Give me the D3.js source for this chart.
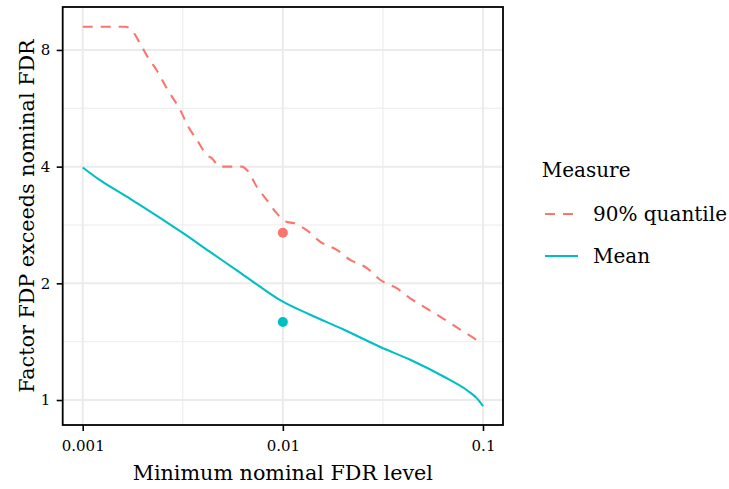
<!DOCTYPE html>
<html>
<head>
<meta charset="utf-8">
<script src="https://cdn.jsdelivr.net/npm/d3@7"></script>
<style>
  body { margin: 0; background: #fff; }
  text { font-family: "DejaVu Serif", serif; fill: #000; }
</style>
</head>
<body>
<div id="chart"></div>
<script>
// values
var quantileLevels = [0.001, 0.00163, 0.00176, 0.00193, 0.00213, 0.00234, 0.00263, 0.00307, 0.00337, 0.00372,
  0.00417, 0.00442, 0.00486, 0.00624, 0.00661, 0.00741, 0.00832, 0.00933, 0.0105, 0.0113,
  0.0132, 0.0154, 0.0186, 0.0217, 0.0263, 0.0307, 0.0372, 0.0433, 0.0525, 0.0635, 0.077, 0.097];
var quantileFactor = [9.18, 9.18, 9.0, 8.33, 7.61, 7.10, 6.37, 5.60, 5.07, 4.69,
  4.29, 4.20, 4.0, 4.0, 3.92, 3.55, 3.28, 3.03, 2.88, 2.86,
  2.74, 2.56, 2.44, 2.30, 2.19, 2.04, 1.94, 1.83, 1.72, 1.62, 1.52, 1.41];

var meanLevels = [0.001, 0.00122, 0.00172, 0.00319, 0.00433, 0.00589, 0.0077, 0.0097, 0.0137, 0.0201,
  0.0307, 0.0433, 0.0635, 0.0832, 0.0933, 0.1];
var meanFactor = [3.98, 3.69, 3.31, 2.69, 2.41, 2.16, 1.96, 1.81, 1.66, 1.52,
  1.37, 1.27, 1.15, 1.06, 1.01, 0.965];

var pointLevel = 0.01;
var pointFactor = [2.70, 1.59]; // 90% quantile, mean

var measures = ["90% quantile", "Mean"];
var measureColors = ["#F8766D", "#00BFC4"];

var xTicks = [0.001, 0.01, 0.1];
var xTickLabels = ["0.001", "0.01", "0.1"];
var xMinor = [Math.pow(10, -2.5), Math.pow(10, -1.5)];
var yTicks = [1, 2, 4, 8];
var yMinor = [Math.SQRT2, 2 * Math.SQRT2, 4 * Math.SQRT2];

var width = 729, height = 489;
var panel = { left: 62.7, right: 503, top: 7, bottom: 425 };

var svg = d3.select('#chart')
  .append('svg')
  .attr('width', width)
  .attr('height', height);

var xScale = d3.scaleLog()
  .domain([Math.pow(10, -3.1), Math.pow(10, -0.9)])
  .range([panel.left, panel.right]);

var yScale = d3.scaleLog().base(2)
  .domain([Math.pow(2, -0.214), Math.pow(2, 3.368)])
  .range([panel.bottom, panel.top]);

// grid lines
var grid = svg.append('g');
grid.selectAll('.xminor').data(xMinor).enter().append('line')
  .attr('x1', d => xScale(d)).attr('x2', d => xScale(d))
  .attr('y1', panel.top).attr('y2', panel.bottom)
  .attr('stroke', '#EBEBEB').attr('stroke-width', 1.1);
grid.selectAll('.yminor').data(yMinor).enter().append('line')
  .attr('y1', d => yScale(d)).attr('y2', d => yScale(d))
  .attr('x1', panel.left).attr('x2', panel.right)
  .attr('stroke', '#EBEBEB').attr('stroke-width', 1.1);
grid.selectAll('.xmajor').data(xTicks).enter().append('line')
  .attr('x1', d => xScale(d)).attr('x2', d => xScale(d))
  .attr('y1', panel.top).attr('y2', panel.bottom)
  .attr('stroke', '#EBEBEB').attr('stroke-width', 2);
grid.selectAll('.ymajor').data(yTicks).enter().append('line')
  .attr('y1', d => yScale(d)).attr('y2', d => yScale(d))
  .attr('x1', panel.left).attr('x2', panel.right)
  .attr('stroke', '#EBEBEB').attr('stroke-width', 2);

// lines
var line = d3.line()
  .x(d => xScale(d[0]))
  .y(d => yScale(d[1]))
  .curve(d3.curveMonotoneX);

var quantileData = quantileLevels.map((x, i) => [x, quantileFactor[i]]);
var meanData = meanLevels.map((x, i) => [x, meanFactor[i]]);

svg.append('path')
  .datum(quantileData)
  .attr('d', line)
  .attr('fill', 'none')
  .attr('stroke', measureColors[0])
  .attr('stroke-width', 2.1)
  .attr('stroke-dasharray', '10,8');

svg.append('path')
  .datum(meanData)
  .attr('d', line)
  .attr('fill', 'none')
  .attr('stroke', measureColors[1])
  .attr('stroke-width', 2.1);

// single points at 0.01
svg.selectAll('.pt')
  .data(pointFactor)
  .enter().append('circle')
  .attr('cx', xScale(pointLevel))
  .attr('cy', d => yScale(d))
  .attr('r', 5)
  .attr('fill', (d, i) => measureColors[i]);

// panel border
svg.append('rect')
  .attr('x', panel.left).attr('y', panel.top)
  .attr('width', panel.right - panel.left)
  .attr('height', panel.bottom - panel.top)
  .attr('fill', 'none')
  .attr('stroke', '#000')
  .attr('stroke-width', 1.8);

// axes
var xAxis = svg.append('g')
  .attr('transform', 'translate(0,' + panel.bottom + ')')
  .call(d3.axisBottom(xScale).tickValues(xTicks)
    .tickFormat((d, i) => xTickLabels[i]).tickSize(6).tickPadding(9));

var yAxis = svg.append('g')
  .attr('transform', 'translate(' + panel.left + ',0)')
  .call(d3.axisLeft(yScale).tickValues(yTicks)
    .tickFormat(d3.format('d')).tickSize(6).tickPadding(6.5));

[xAxis, yAxis].forEach(function (ax) {
  ax.select('.domain').remove();
  ax.selectAll('line').attr('stroke', '#000').attr('stroke-width', 1.6);
  ax.selectAll('text')
    .style('font-family', '"DejaVu Serif", serif')
    .style('font-size', '15px')
    .attr('fill', '#000');
});

// axis titles
svg.append('text')
  .attr('x', (panel.left + panel.right) / 2)
  .attr('y', 480)
  .style('text-anchor', 'middle')
  .style('font-size', '20.7px')
  .text('Minimum nominal FDR level');

svg.append('text')
  .attr('transform', 'rotate(-90)')
  .attr('x', -(panel.top + panel.bottom) / 2)
  .attr('y', 34)
  .style('text-anchor', 'middle')
  .style('font-size', '20.7px')
  .text('Factor FDP exceeds nominal FDR');

// legend
var legend = svg.append('g');
legend.append('text')
  .attr('x', 541.7)
  .attr('y', 177)
  .style('font-size', '20px')
  .text('Measure');

var keyY = [214, 256];
var items = legend.selectAll('.item')
  .data(measures)
  .enter().append('g');

items.append('line')
  .attr('x1', 545).attr('x2', 578)
  .attr('y1', (d, i) => keyY[i]).attr('y2', (d, i) => keyY[i])
  .attr('stroke', (d, i) => measureColors[i])
  .attr('stroke-width', 2.1)
  .attr('stroke-dasharray', (d, i) => i === 0 ? '10,8' : null);

items.append('text')
  .attr('x', 593)
  .attr('y', (d, i) => keyY[i] + 7)
  .style('font-size', '20px')
  .text(d => d);
</script>
</body>
</html>
